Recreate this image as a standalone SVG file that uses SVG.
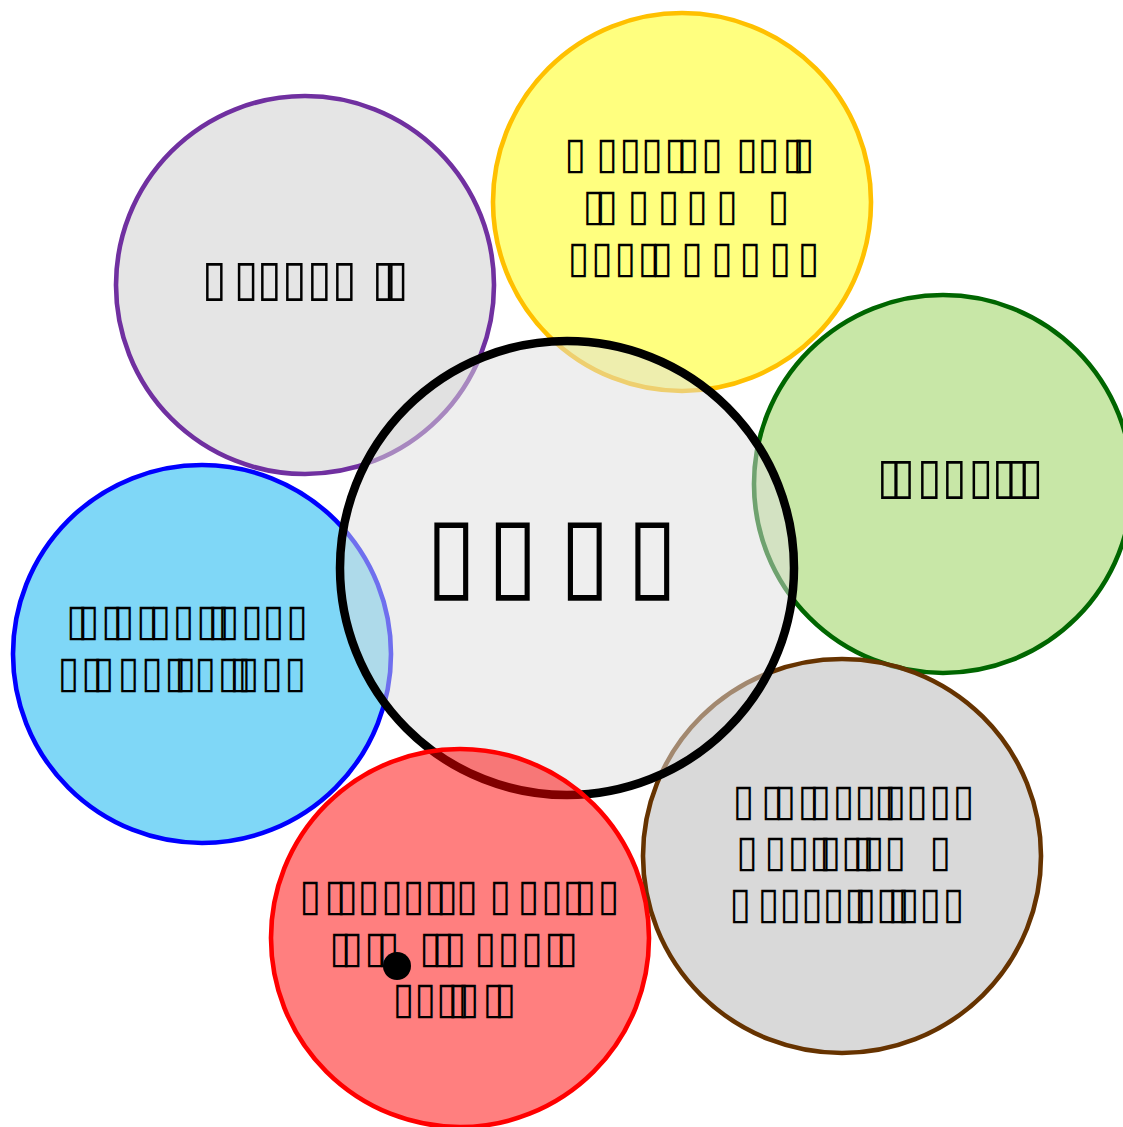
<svg xmlns="http://www.w3.org/2000/svg" width="1123" height="1127" viewBox="0 0 1123 1127">
<style>
.c{stroke-width:4.6}
.t{font-family:"DejaVu Sans Condensed","DejaVu Sans",sans-serif;font-weight:bold;font-stretch:condensed;font-size:44px;fill:#000}
.m{font-size:50px}
.big{font-size:102px}
</style>
<rect width="1123" height="1127" fill="#fff"/>
<g id="node-purple"><circle class="c" cx="305" cy="285" r="189" fill="#cccccc" fill-opacity="0.5" stroke="#7030a0"/>
<text class="t m" x="202 233.7 257 282 307 332 372 383.7" y="295">▯▯▯▯▯▯▯▯</text></g>
<g id="node-yellow"><circle class="c" cx="682" cy="202" r="189" fill="#ffff00" fill-opacity="0.5" stroke="#ffc000"/>
<text class="t" x="564.2 595.9 619.2 640.9 664.2 677.6 700.9 735.9 757.6 782.6 792.6" y="168">▯▯▯▯▯▯▯▯▯▯▯</text>
<text class="t" x="582.6 595.9 627.6 657.6 685.9 715.9 767.6" y="220">▯▯▯▯▯▯▯</text>
<text class="t" x="567.6 590.9 614.2 637.6 650.9 680.9 710.9 739.2 769.2 797.6" y="272">▯▯▯▯▯▯▯▯▯▯</text></g>
<g id="node-green"><circle class="c" cx="943" cy="484" r="189" fill="#92d050" fill-opacity="0.5" stroke="#006600"/>
<text class="t m" x="877 890.3 917 942 968.6 992 1005.3 1018.6" y="493">▯▯▯▯▯▯▯▯</text></g>
<g id="node-blue"><circle class="c" cx="202" cy="654" r="189" fill="#00b0f0" fill-opacity="0.5" stroke="#0000ff"/>
<text class="t" x="65.9 77.6 100.9 112.6 135.9 149.2 172.6 195.9 207.6 217.6 240.9 262.6 285.9" y="635">▯▯▯▯▯▯▯▯▯▯▯▯▯</text>
<text class="t" x="57.6 80.9 92.6 117.6 140.9 164.2 174.2 194.2 217.6 229.2 237.6 260.9 284.2" y="687">▯▯▯▯▯▯▯▯▯▯▯▯▯</text></g>
<g id="node-brown"><ellipse class="c" cx="842" cy="856" rx="199" ry="197" fill="#b3b3b3" fill-opacity="0.5" stroke="#663300"/>
<text class="t" x="732.6 760.9 774.2 797.6 809.2 832.6 854.2 874.2 884.2 905.9 929.2 952.6" y="815">▯▯▯▯▯▯▯▯▯▯▯▯</text>
<text class="t" x="735.9 764.2 787.6 809.2 819.2 840.9 852.6 862.6 884.2 929.2" y="866">▯▯▯▯▯▯▯▯▯▯</text>
<text class="t" x="729.2 757.6 779.2 800.9 822.6 844.2 854.2 875.9 887.6 897.6 919.2 942.6" y="918">▯▯▯▯▯▯▯▯▯▯▯▯</text></g>
<g id="node-center"><circle cx="567" cy="568" r="227" fill="#dddddd" fill-opacity="0.5" stroke="#000" stroke-width="8.5"/>
<text class="t big" x="426.2 487.8 559.8 627.2" y="588">▯▯▯▯</text></g>
<g id="node-red"><circle class="c" cx="460" cy="938" r="189" fill="#ff0000" fill-opacity="0.5" stroke="#ff0000"/>
<text class="t" x="299.2 324.2 335.9 357.6 380.9 402.6 424.2 435.9 455.9 489.2 517.6 540.9 562.6 574.2 597.6" y="910">▯▯▯▯▯▯▯▯▯▯▯▯▯▯▯</text>
<text class="t" x="329.2 340.9 364.2 377.6 419.2 432.6 444.2 474.2 497.6 520.9 544.2 555.9" y="962">▯▯▯▯▯▯▯▯▯▯▯▯</text>
<text class="t" x="392.6 414.2 435.9 447.6 457.6 482.6 494.2" y="1013">▯▯▯▯▯▯▯</text>
<circle cx="397" cy="966" r="14" fill="#000"/></g>
<g id="connectors"></g>
</svg>
